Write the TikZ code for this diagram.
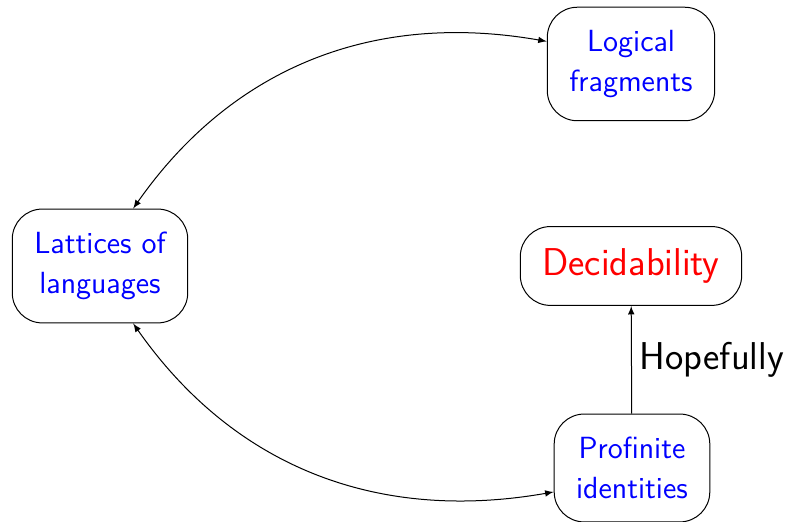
\documentclass[tikz,border=0pt]{standalone}
\usepackage{tikz}
\usetikzlibrary{positioning}

\tikzset{
  topic/.style={draw, rounded corners=15pt, align=center, inner xsep=11pt, inner ysep=11.5pt,
    text=blue, font=\sffamily\fontsize{15.3}{20}\selectfont},
  goal/.style={topic, text=red, font=\sffamily\fontsize{19.4}{22}\selectfont, inner ysep=11pt},
}

\begin{document}
\begin{tikzpicture}[x=0.5pt, y=0.5pt, >=latex, line width=0.5pt]
            \useasboundingbox (0,0) rectangle (788,522);
            \node[topic] (log) at (631,458) {Logical\\fragments};
            \node[topic] (lat) at (100,256) {Lattices of\\languages};
            \node[goal]  (dec) at (631,256) {Decidability};
            \node[topic] (pro) at (632,54)  {Profinite\\identities};

            \draw[<->] (lat.60) to[out=55, in=170] (log.165);
            \draw[<->] (lat.-60) to[out=-55, in=190] (pro.197);
            \draw[->] (pro) -- node[right, inner sep=4pt, font=\sffamily\fontsize{19.4}{22}\selectfont] (hop) {Hopefully} (dec);
        \end{tikzpicture}
\end{document}
